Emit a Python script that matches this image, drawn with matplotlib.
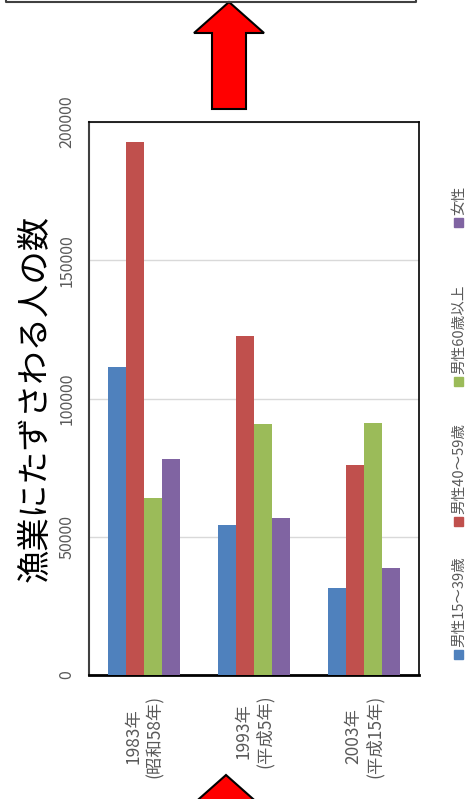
import numpy as np
import matplotlib
matplotlib.use('Agg')
import matplotlib.pyplot as plt
from matplotlib.patches import Polygon, Rectangle

plt.rcParams['font.family'] = ['Noto Sans CJK JP', 'DejaVu Sans']

# data
categories = ['1983年\n(昭和58年)', '1993年\n(平成5年)', '2003年\n(平成15年)']
series_names = ['男性15～39歳', '男性40～59歳', '男性60歳以上', '女性']
male_15_39 = [111500, 54100, 31400]
male_40_59 = [192700, 122600, 75900]
male_60_up = [64100, 90700, 91200]
female = [78000, 56800, 38800]
y_ticks = [0, 50000, 100000, 150000, 200000]
title = '漁業にたずさわる人の数'

colors = ['#4F81BD', '#C0504D', '#9BBB59', '#8064A2']
W, H = 468, 799


def px(x, y):
    # pixel position -> figure fraction
    return (x / W, 1 - y / H)


fig = plt.figure(figsize=(W / 100, H / 100), dpi=100)
ax = fig.add_axes([89 / W, 1 - 675 / H, (419 - 89) / W, (675 - 122) / H])

x = np.arange(len(categories))
w = 0.162
for i, vals in enumerate([male_15_39, male_40_59, male_60_up, female]):
    ax.bar(x + (i - 1.5) * w, vals, w, color=colors[i], zorder=3)

ax.set_xlim(-0.5, len(categories) - 0.5)
ax.set_ylim(0, 200000)
ax.set_yticks(y_ticks)
ax.set_yticklabels([str(v) for v in y_ticks], rotation=90, va='center',
                   ha='center', fontsize=11.5, color='#595959')
ax.tick_params(axis='y', length=0, pad=16)
ax.set_xticks(x)
ax.set_xticklabels(categories, rotation=90, ha='center', va='top',
                   multialignment='center', fontsize=12.5, color='#595959')
ax.tick_params(axis='x', length=0, pad=14)
ax.yaxis.grid(True, color='#d9d9d9', lw=1, zorder=0)
ax.spines['left'].set_color('#404040')
ax.spines['left'].set_linewidth(1.5)
ax.spines['bottom'].set_linewidth(2)
ax.spines['top'].set_linewidth(1.2)
ax.spines['right'].set_linewidth(1.2)

# title
fig.text(*px(35, 398), title, rotation=90, fontsize=24, ha='center', va='center')

# legend (rotated, reads upward)
leg_y = [654, 521, 381, 222]
for name, c, yy in zip(series_names, colors, leg_y):
    fig.patches.append(Rectangle(px(454, yy + 4.5), 9 / W, 9 / H, color=c,
                                 transform=fig.transFigure, figure=fig))
    fig.text(*px(459, yy - 7), name, rotation=90, ha='center', va='bottom',
             fontsize=10.5, color='#595959')

# arrows and box
def arrow(tx, ty):
    pts = [(tx, ty), (tx + 35, ty + 31), (tx + 17, ty + 31), (tx + 17, ty + 107),
           (tx - 17, ty + 107), (tx - 17, ty + 31), (tx - 35, ty + 31)]
    fig.patches.append(Polygon([px(a, b) for a, b in pts], closed=True,
                               facecolor='#ff0000', edgecolor='black', lw=1.5,
                               transform=fig.transFigure, figure=fig))

arrow(229, 2)
arrow(226, 775)

fig.lines.append(plt.Line2D([6 / W, 6 / W, 416 / W, 416 / W],
                            [1.05, 1 - 1.5 / H, 1 - 1.5 / H, 1.05],
                            color='#404040', lw=1.5, transform=fig.transFigure, figure=fig))

fig.savefig('out.png', dpi=100)
